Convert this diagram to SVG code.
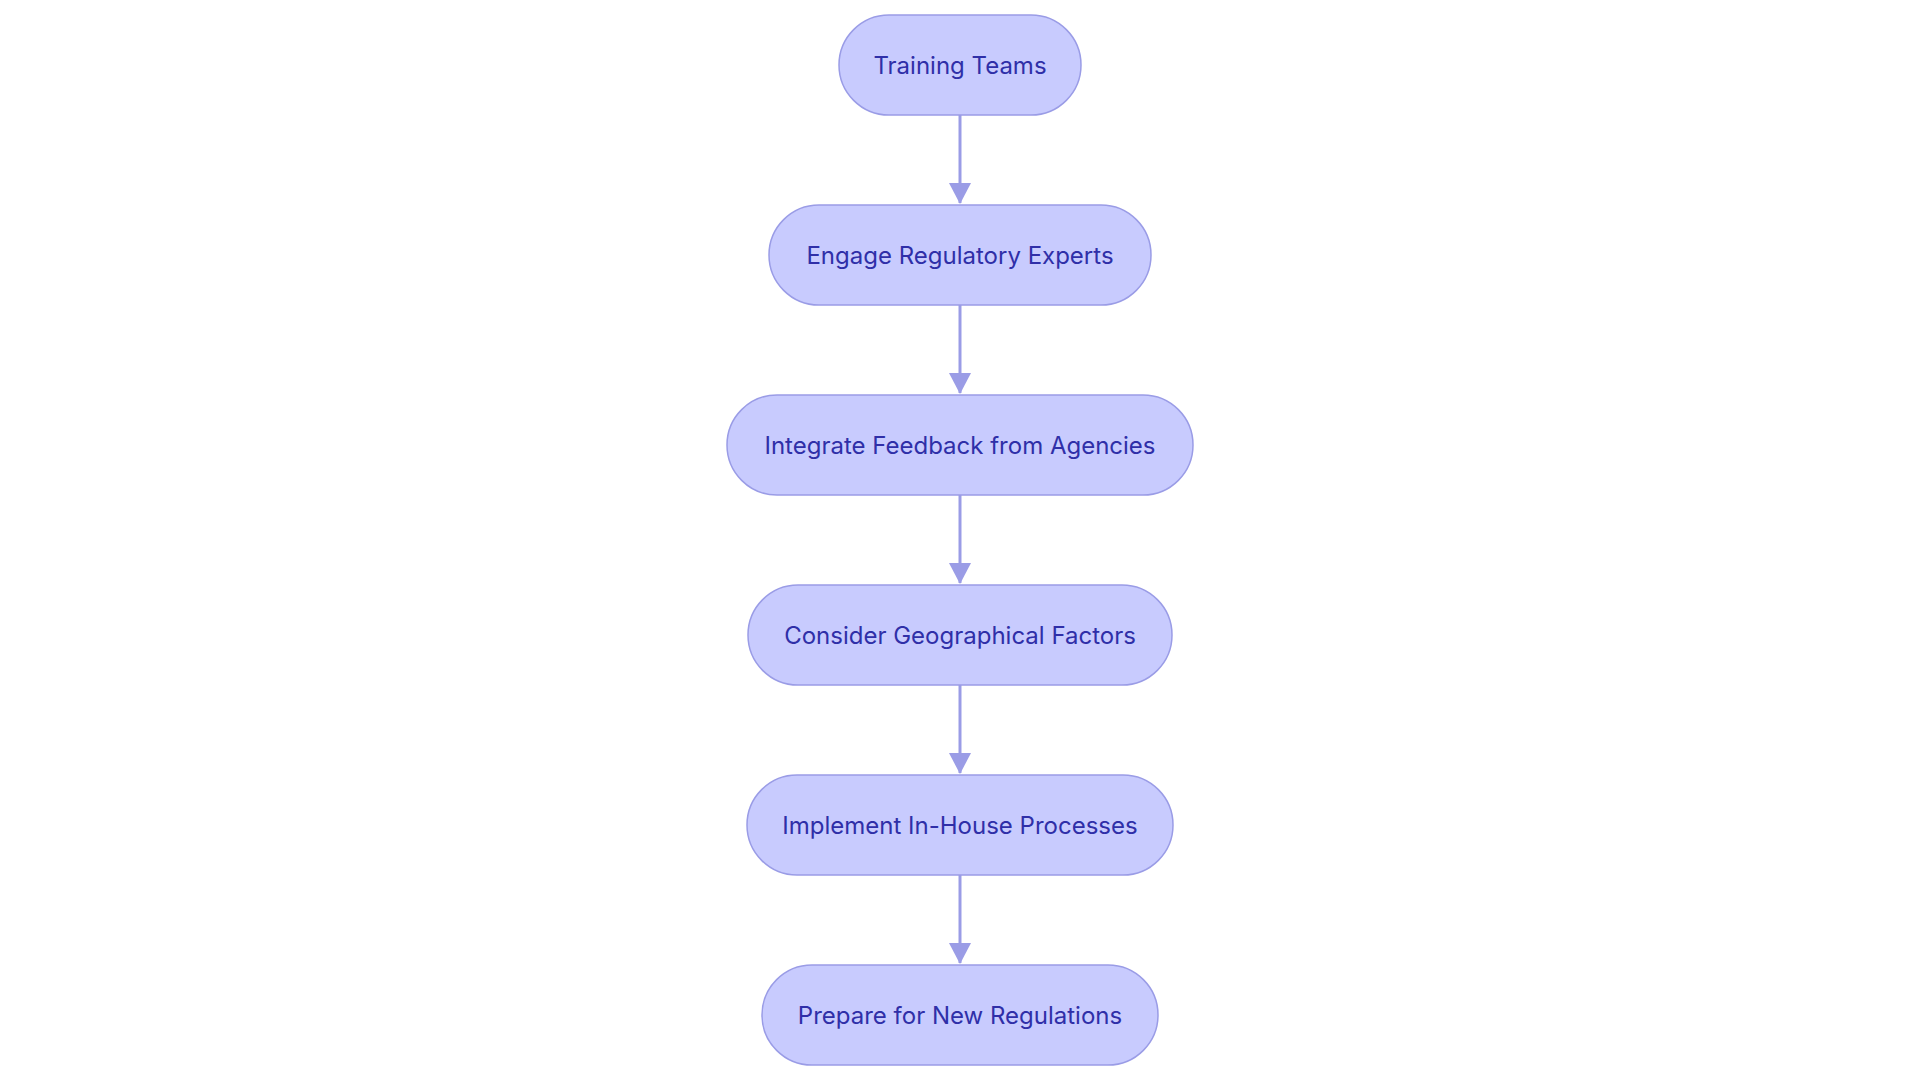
<svg xmlns="http://www.w3.org/2000/svg" width="1920" height="1083" viewBox="0 0 1920 1083">
<style>
.n{fill:#c8cbfe;stroke:#9a9ce6;stroke-width:1.5}
.t{font-family:Inter,"Liberation Sans",sans-serif;font-size:24px;fill:#2f2fa8;text-anchor:middle;dominant-baseline:central}
.e{stroke:#9a9ce6;stroke-width:3;fill:none;marker-end:url(#a)}
</style>
<defs><marker id="a" viewBox="0 0 10 10" refX="10" refY="5" markerWidth="8" markerHeight="8" markerUnits="userSpaceOnUse" orient="auto"><path d="M0,0L10,5L0,10z" fill="#9a9ce6"/></marker></defs>
<rect width="1920" height="1083" fill="#fff"/>
<g id="edges">
<path class="e" d="M960,115V203" style="marker-end:none"/><path d="M949,183L960,204L971,183z" fill="#9a9ce6"/>
<path class="e" d="M960,305V393" style="marker-end:none"/><path d="M949,373L960,394L971,373z" fill="#9a9ce6"/>
<path class="e" d="M960,495V583" style="marker-end:none"/><path d="M949,563L960,584L971,563z" fill="#9a9ce6"/>
<path class="e" d="M960,685V773" style="marker-end:none"/><path d="M949,753L960,774L971,753z" fill="#9a9ce6"/>
<path class="e" d="M960,875V963" style="marker-end:none"/><path d="M949,943L960,964L971,943z" fill="#9a9ce6"/>
</g>
<g id="n1"><rect class="n" x="839" y="15" width="242" height="100" rx="50"/><text class="t" x="960" y="65">Training Teams</text></g>
<g id="n2"><rect class="n" x="769" y="205" width="382" height="100" rx="50"/><text class="t" x="960" y="255">Engage Regulatory Experts</text></g>
<g id="n3"><rect class="n" x="727" y="395" width="466" height="100" rx="50"/><text class="t" x="960" y="445">Integrate Feedback from Agencies</text></g>
<g id="n4"><rect class="n" x="748" y="585" width="424" height="100" rx="50"/><text class="t" x="960" y="635">Consider Geographical Factors</text></g>
<g id="n5"><rect class="n" x="747" y="775" width="426" height="100" rx="50"/><text class="t" x="960" y="825">Implement In-House Processes</text></g>
<g id="n6"><rect class="n" x="762" y="965" width="396" height="100" rx="50"/><text class="t" x="960" y="1015">Prepare for New Regulations</text></g>
</svg>
